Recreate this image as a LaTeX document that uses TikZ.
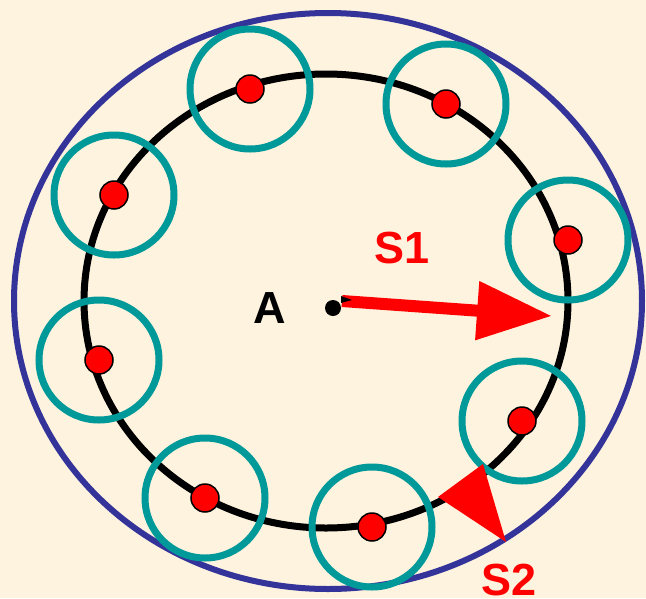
\documentclass[tikz,border=0pt]{standalone}
\usepackage{fontspec}
\setmainfont{Liberation Sans}
\usetikzlibrary{arrows.meta,positioning}
\definecolor{bgcream}{RGB}{253,243,222}
\definecolor{orbitblue}{RGB}{51,51,153}
\definecolor{zoneteal}{RGB}{0,153,153}

\begin{document}
\begin{tikzpicture}[x=1pt, y=-1pt,
    dot/.style={draw=black, line width=1.5pt, circle, fill=red, minimum size=28pt, inner sep=0pt},
    zone/.style={draw=zoneteal, line width=7pt, circle, minimum size=120pt, inner sep=0pt},
    lbl/.style={font=\fontsize{45}{54}\selectfont\bfseries, inner sep=0pt}]
    \clip (0,0) rectangle (646,598);
    \fill[bgcream] (0,0) rectangle (646,598);

    % outer border and orbit
    \draw[orbitblue, line width=6pt] (328,301) ellipse [x radius=314, y radius=288];
    \draw[black, line width=7pt] (326,301) ellipse [x radius=242, y radius=227];

    % stations on the orbit
    \foreach \x/\y [count=\i] in {250/89, 446/104, 114/195, 568/240, 99/360, 522/421, 205/498, 372/527}
        \node[zone] (z\i) at (\x,\y) {};
    \foreach \x/\y [count=\i] in {250/89, 446/104, 114/195, 568/240, 99/360, 522/421, 205/498, 372/527}
        \node[dot] (d\i) at (\x,\y) {};

    % centre
    \node[circle, fill=black, minimum size=16pt, inner sep=0pt] (A) at (333,308) {};
    \node[lbl] (Alabel) at (270,308) {A};

    % S1
    \coordinate (s1start) at (342,301);
    \coordinate (s1end) at (552,316);
    \draw[red, line width=12pt, -{Triangle[length=75pt, width=56pt]}] (s1start) -- (s1end);
    \fill[black] (341,296) -- (352,300) -- (341,303) -- cycle;
    \node[lbl, text=red] (S1) at (402,248) {S1};

    % S2
    \coordinate (s2tip) at (438,497);
    \fill[red] (483,464) -- (s2tip) -- (506,542) -- cycle;
    \node[lbl, text=red] (S2) at (509,580) {S2};
\end{tikzpicture}
\end{document}
